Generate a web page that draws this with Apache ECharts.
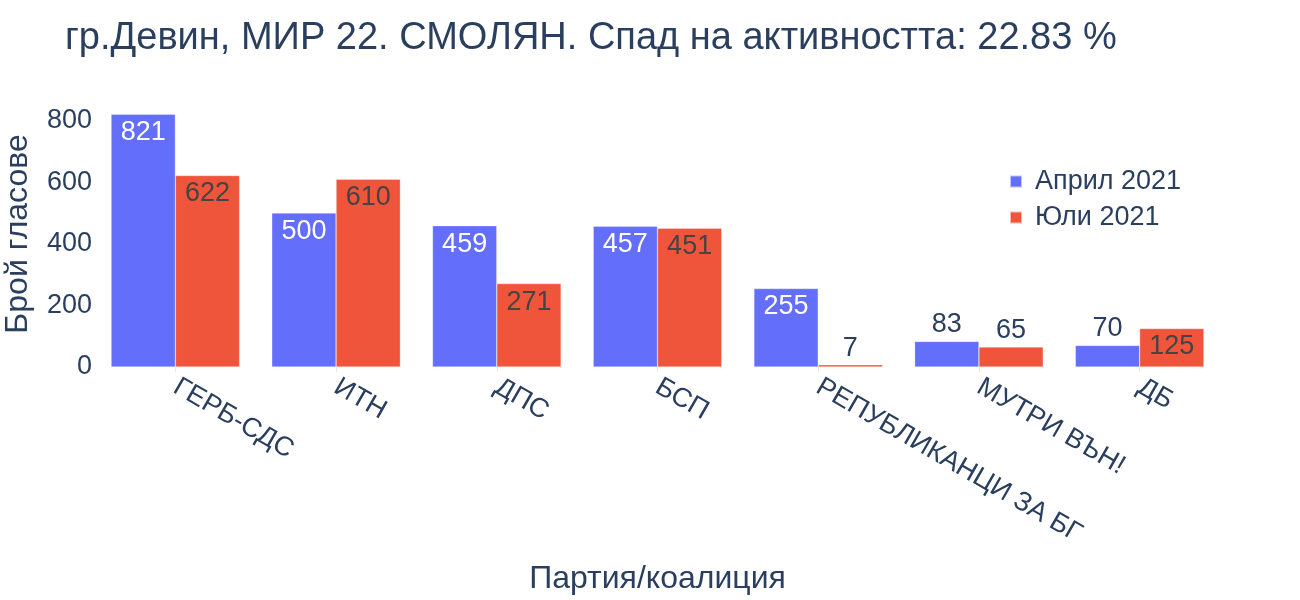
<!DOCTYPE html>
<html>
<head>
<meta charset="utf-8">
<script src="https://cdn.jsdelivr.net/npm/echarts@6/dist/echarts.min.js"></script>
<style>
  html, body { margin: 0; padding: 0; background: #fff; }
  #chart { width: 1300px; height: 600px; }
</style>
</head>
<body>
<div id="chart"></div>
<script>
  // партии
  var parties = ['ГЕРБ-СДС', 'ИТН', 'ДПС', 'БСП', 'РЕПУБЛИКАНЦИ ЗА БГ', 'МУТРИ ВЪН!', 'ДБ'];
  var april2021 = [821, 500, 459, 457, 255, 83, 70];
  var july2021 = [622, 610, 271, 451, 7, 65, 125];
  var yTicks = [0, 200, 400, 600, 800];

  var textColor = '#2a3f5f';
  var font = '"Liberation Sans", Arial, sans-serif';

  // надпис вътре в стълба, ако се побира, иначе над него
  function withLabels(values, insideColor) {
    return values.map(function (v) {
      var inside = v >= 100;
      return {
        value: v,
        label: {
          show: true,
          position: inside ? 'insideTop' : 'top',
          distance: inside ? 5 : 3,
          color: inside ? insideColor : textColor,
          fontSize: 27,
          fontFamily: font
        }
      };
    });
  }

  var myChart = echarts.init(document.getElementById('chart'));
  myChart.setOption({
    animation: false,
    textStyle: { fontFamily: font },
    title: {
      text: 'гр.Девин, МИР 22. СМОЛЯН. Спад на активността: 22.83 %',
      left: 60,
      top: 15,
      textStyle: { color: textColor, fontSize: 38, fontWeight: 'normal', fontFamily: font }
    },
    legend: {
      data: ['Април 2021', 'Юли 2021'],
      orient: 'vertical',
      left: 1004,
      top: 163,
      itemWidth: 12,
      itemHeight: 12,
      itemGap: 9,
      icon: 'rect',
      textStyle: { color: textColor, fontSize: 27, fontFamily: font, padding: [0, 0, 0, 8] }
    },
    grid: { left: 95, right: 80, top: 101, bottom: 233, outerBoundsMode: 'none' },
    xAxis: {
      type: 'category',
      data: parties,
      name: 'Партия/коалиция',
      nameLocation: 'middle',
      nameGap: 196,
      nameTextStyle: { color: textColor, fontSize: 32, fontFamily: font },
      axisLine: { show: false },
      axisTick: { show: true, alignWithLabel: true, length: 5, lineStyle: { color: '#e8e8e8' } },
      axisLabel: { rotate: -30, color: textColor, fontSize: 27, margin: 18, fontFamily: font, interval: 0 }
    },
    yAxis: {
      type: 'value',
      min: 0,
      max: 864,
      interval: 200,
      name: 'Брой гласове',
      nameLocation: 'middle',
      nameGap: 61,
      nameTextStyle: { color: textColor, fontSize: 32, fontFamily: font },
      splitLine: { show: false },
      axisLine: { show: false },
      axisTick: { show: false },
      axisLabel: {
        color: textColor, fontSize: 27, margin: 3, fontFamily: font,
        formatter: function (v) { return yTicks.indexOf(v) >= 0 ? String(v) : ''; }
      }
    },
    series: [
      {
        name: 'Април 2021',
        type: 'bar',
        data: withLabels(april2021, '#ffffff'),
        barGap: '0%',
        barCategoryGap: '20%',
        itemStyle: { color: '#636efa', borderColor: 'rgba(255,255,255,0.6)', borderWidth: 0.5 }
      },
      {
        name: 'Юли 2021',
        type: 'bar',
        data: withLabels(july2021, '#444444'),
        barGap: '0%',
        barCategoryGap: '20%',
        itemStyle: { color: '#ef553b', borderColor: 'rgba(255,255,255,0.6)', borderWidth: 0.5 }
      }
    ]
  });
</script>
</body>
</html>
